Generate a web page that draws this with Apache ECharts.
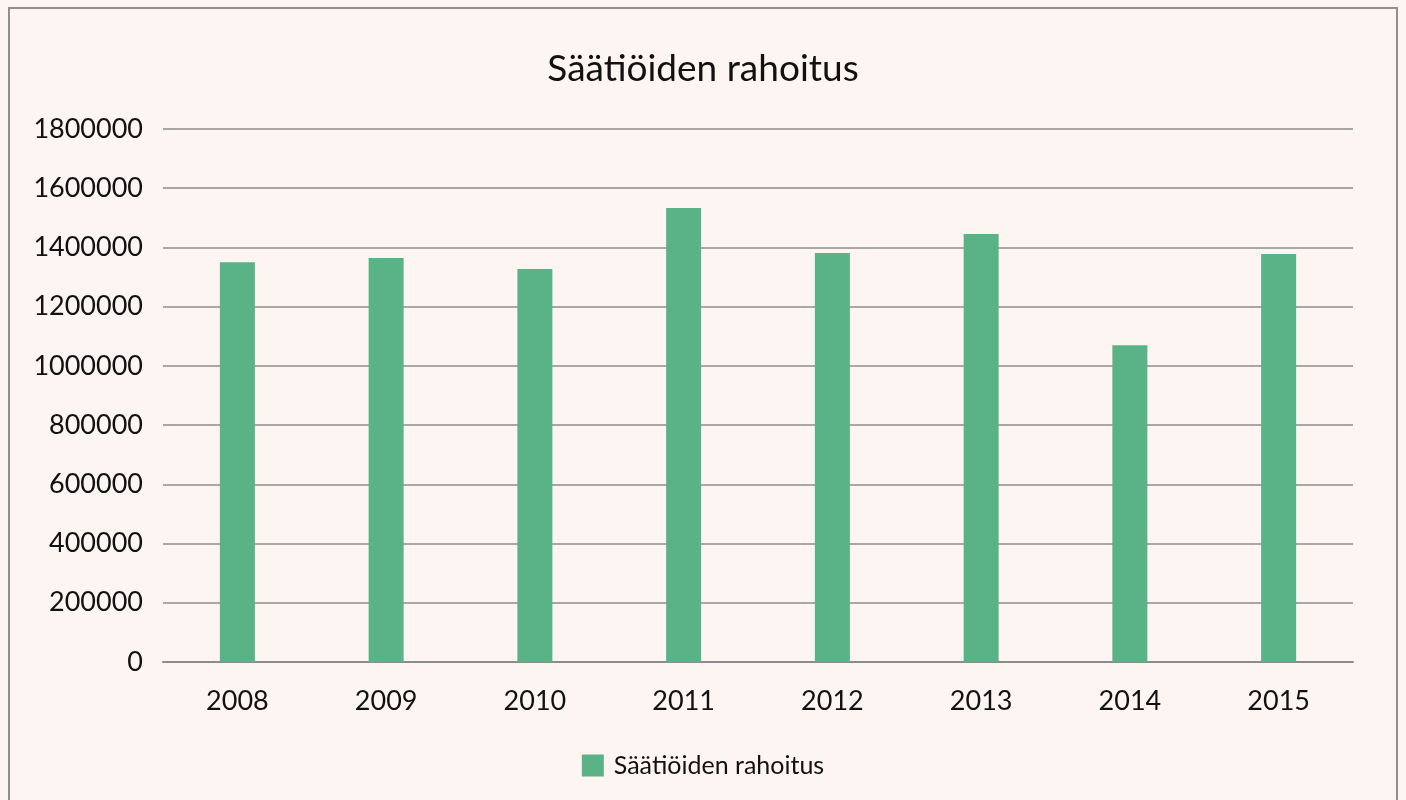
<!DOCTYPE html>
<html>
<head>
    <meta charset="utf-8">
    <title>Säätiöiden rahoitus</title>
    <script src="https://cdn.jsdelivr.net/npm/echarts@6/dist/echarts.min.js"></script>
    <style>
        html, body {margin: 0; padding: 0; background: #fdf5f2;}
        #main {position: absolute; left: 0; top: 0; width: 1406px; height: 800px;}
        #frame {position: absolute; left: 8px; top: 7px; width: 1390px; height: 800px;
            border: 2px solid #8f8f8f; box-sizing: border-box; pointer-events: none;}
    </style>
</head>
<body>
<div id="main"></div>
<div id="frame"></div>
<script type="text/javascript">
    var years = ['2008', '2009', '2010', '2011', '2012', '2013', '2014', '2015'];
    var funding = [1350000, 1364000, 1327000, 1533000, 1381000, 1445000, 1070000, 1378000];
    var seriesName = 'Säätiöiden rahoitus';

    var chart = echarts.init(document.getElementById('main'));

    var option = {
        backgroundColor: '#fdf5f2',
        textStyle: {fontFamily: 'Lato'},
        title: {
            text: 'Säätiöiden rahoitus',
            left: 'center',
            top: 46,
            textStyle: {fontFamily: 'Lato', fontSize: 37, fontWeight: 'normal', color: '#111'}
        },
        legend: {
            bottom: 17,
            left: 'center',
            itemWidth: 22,
            itemHeight: 22,
            itemGap: 10,
            icon: 'rect',
            textStyle: {fontFamily: 'Lato', fontSize: 25, color: '#111', padding: [0, 0, 0, 5]},
            data: [seriesName]
        },
        grid: {left: 163, right: 53, top: 129, bottom: 138, containLabel: false},
        xAxis: {
            type: 'category',
            data: years,
            axisTick: {show: false},
            axisLine: {lineStyle: {color: '#8c8c8c', width: 2}},
            axisLabel: {fontFamily: 'Lato', fontSize: 27, color: '#111', margin: 26}
        },
        yAxis: {
            type: 'value',
            min: 0,
            max: 1800000,
            interval: 200000,
            axisLine: {show: false},
            axisTick: {show: false},
            splitLine: {lineStyle: {color: '#8c8c8c', width: 1.5}},
            axisLabel: {
                fontFamily: 'Lato', fontSize: 27, color: '#111', margin: 20,
                formatter: function (v) { return String(v); }
            }
        },
        series: [{
            name: seriesName,
            type: 'bar',
            data: funding,
            barWidth: 35,
            itemStyle: {color: '#5ab287'}
        }]
    };
    chart.setOption(option);
</script>
</body>
</html>
